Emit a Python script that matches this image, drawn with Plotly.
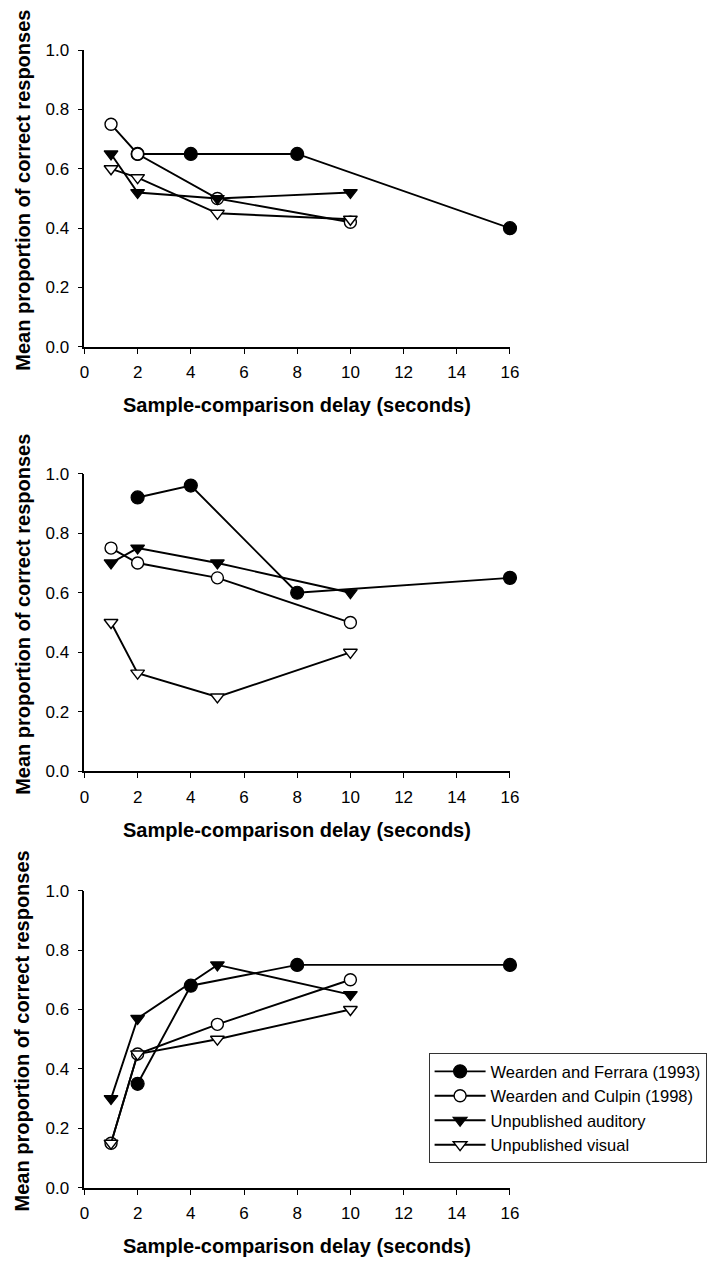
import plotly.graph_objects as go

# ---- data ----
delays_ferrara = [2, 4, 8, 16]
delays_other = [1, 2, 5, 10]

series_names = ["Wearden and Ferrara (1993)", "Wearden and Culpin (1998)",
                "Unpublished auditory", "Unpublished visual"]

ferrara_p1 = [0.65, 0.65, 0.65, 0.40]
culpin_p1 = [0.75, 0.65, 0.50, 0.42]
auditory_p1 = [0.65, 0.52, 0.50, 0.52]
visual_p1 = [0.60, 0.57, 0.45, 0.43]

ferrara_p2 = [0.92, 0.96, 0.60, 0.65]
culpin_p2 = [0.75, 0.70, 0.65, 0.50]
auditory_p2 = [0.70, 0.75, 0.70, 0.60]
visual_p2 = [0.50, 0.33, 0.25, 0.40]

ferrara_p3 = [0.35, 0.68, 0.75, 0.75]
culpin_p3 = [0.15, 0.45, 0.55, 0.70]
auditory_p3 = [0.30, 0.57, 0.75, 0.65]
visual_p3 = [0.15, 0.45, 0.50, 0.60]

x_ticks = [0, 2, 4, 6, 8, 10, 12, 14, 16]
y_ticks = [0.0, 0.2, 0.4, 0.6, 0.8, 1.0]
x_title = "Sample-comparison delay (seconds)"
y_title = "Mean proportion of correct responses"

panels = [
    (ferrara_p1, culpin_p1, auditory_p1, visual_p1),
    (ferrara_p2, culpin_p2, auditory_p2, visual_p2),
    (ferrara_p3, culpin_p3, auditory_p3, visual_p3),
]

W, H = 719, 1270
FONT = "Liberation Sans, Arial, sans-serif"

styles = [
    dict(symbol="circle", size=13, color="black", line=dict(color="black", width=1.2)),
    dict(symbol="circle", size=12, color="white", line=dict(color="black", width=1.4)),
    dict(symbol="triangle-down", size=12, color="black", line=dict(color="black", width=1.2)),
    dict(symbol="triangle-down", size=12, color="white", line=dict(color="black", width=1.4)),
]

fig = go.Figure()

for pi, vals in enumerate(panels):
    ax = "" if pi == 0 else str(pi + 1)
    for si, yv in enumerate(vals):
        xs = delays_ferrara if si == 0 else delays_other
        fig.add_trace(go.Scatter(
            x=xs, y=yv, mode="lines+markers",
            name=series_names[si],
            legendgroup=series_names[si],
            showlegend=(pi == 2),
            line=dict(color="black", width=1.9),
            marker=styles[si],
            cliponaxis=False,
            xaxis="x" + ax, yaxis="y" + ax,
        ))

# plot-area pixel geometry
x_left, x_right = 81, 515
panel_px = [(41.7, 343.0), (471.7, 774.0), (895.0, 1196.7)]

layout = dict(
    width=W, height=H,
    margin=dict(l=0, r=0, t=0, b=0),
    paper_bgcolor="white", plot_bgcolor="white",
    font=dict(family=FONT, color="black", size=16),
    showlegend=True,
    legend=dict(
        x=432 / W, y=1 - 1060 / H, xanchor="left", yanchor="top",
        bordercolor="#333", borderwidth=1, bgcolor="white",
        font=dict(family=FONT, size=16.5, color="black"),
        itemwidth=51, tracegroupgap=0,
        traceorder="normal",
    ),
)

annotations = []
for pi, (top, bot) in enumerate(panel_px):
    ax = "" if pi == 0 else str(pi + 1)
    layout["xaxis" + ax] = dict(
        domain=[x_left / W, x_right / W], anchor="y" + ax,
        range=[0, 16], tickvals=x_ticks, ticktext=[str(t) for t in x_ticks],
        showline=True, linecolor="black", linewidth=1.6,
        ticks="outside", ticklen=5, tickwidth=1.2, tickcolor="black",
        showgrid=False, zeroline=False, ticklabelstandoff=4,
        tickfont=dict(family=FONT, size=17, color="black"),
    )
    layout["yaxis" + ax] = dict(
        domain=[1 - bot / H, 1 - top / H], anchor="x" + ax,
        range=[0, 1], tickvals=y_ticks, ticktext=["%.1f" % t for t in y_ticks],
        showline=True, linecolor="black", linewidth=1.6,
        ticks="outside", ticklen=5, tickwidth=1.2, tickcolor="black",
        showgrid=False, zeroline=False, ticklabelstandoff=5,
        tickfont=dict(family=FONT, size=17, color="black"),
    )
    annotations.append(dict(
        text="<b>%s</b>" % x_title, xref="paper", yref="paper",
        x=(x_left + x_right) / 2 / W, y=1 - (bot + 59) / H,
        xanchor="center", yanchor="middle", showarrow=False,
        font=dict(family=FONT, size=20, color="black"),
    ))
    annotations.append(dict(
        text="<b>%s</b>" % y_title, xref="paper", yref="paper",
        x=17.5 / W, y=1 - ((top + bot) / 2 - 8) / H,
        xanchor="center", yanchor="middle", showarrow=False, textangle=-90,
        font=dict(family=FONT, size=20, color="black"),
    ))
layout["annotations"] = annotations

fig.update_layout(**layout)
fig.write_html("out.html")
